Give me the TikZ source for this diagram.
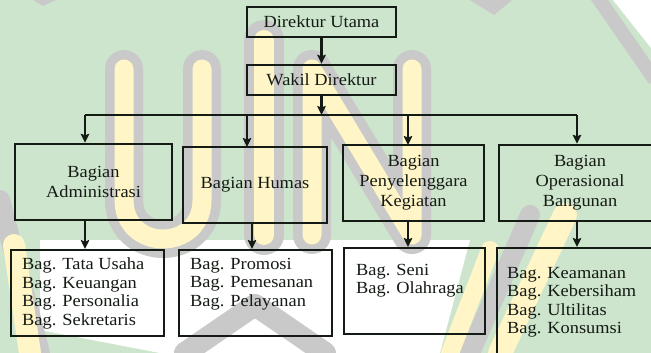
\documentclass[tikz,border=0pt]{standalone}
\usepackage{fontspec}
\setmainfont{Liberation Serif}[FakeStretch=1.08]
\usetikzlibrary{arrows.meta}
\definecolor{bggreen}{HTML}{CDE5CC}
\definecolor{wmyellow}{HTML}{FFF5C6}
\definecolor{wmgrey}{HTML}{C9C9C9}
\definecolor{inkc}{HTML}{141A14}
\tikzset{
  box/.style={draw=inkc, line width=2.4pt, minimum width=#1, inner sep=0pt},
  midtxt/.style={align=center, font=\fontsize{17}{19.8}\selectfont, text=inkc, inner sep=0pt},
  listtxt/.style={align=left, font=\fontsize{17}{18.4}\selectfont, text=inkc, inner sep=0pt, anchor=north west},
  conn/.style={draw=inkc, line width=2.1pt},
  arr/.style={conn, -{Stealth[length=9pt,width=8.5pt,inset=1.5pt]}},
  greyband/.style={draw=wmgrey, line width=#1, line cap=round, line join=round},
  yelband/.style={draw=wmyellow, line width=#1, line cap=round, line join=round},
}
\begin{document}
\begin{tikzpicture}[x=1pt,y=-1pt]
\useasboundingbox (0,0) rectangle (651,353);
\clip (0,0) rectangle (651,353);
% ---- watermark background ----
\fill[bggreen] (0,0) rectangle (651,353);
\fill[white] (40,240) -- (470,240) -- (440,353) -- (160,353) -- (40,330) -- cycle;
\fill[white] (613,0) -- (651,0) -- (651,48) -- cycle;
\draw[greyband=14pt, line cap=butt] (596,-5) -- (655,80);
\fill[wmgrey] (470,0) -- (512,0) -- (494,15) -- cycle;
\fill[wmgrey] (33,0) -- (56,0) -- (43,6) -- cycle;
% lower chevrons
\draw[greyband=20pt] (0,200) -- (40,353);
\draw[yelband=22pt] (14,245) -- (30,353);
\draw[greyband=22pt] (185,353) -- (255,305) -- (325,353);
\draw[greyband=20pt] (530,215) -- (470,353);
\draw[yelband=18pt] (490,250) -- (450,353);
\draw[yelband=24pt] (565,215) -- (500,353);
% U
\draw[greyband=38pt] (124,69) -- (124,200) .. controls (124,252) and (202,252) .. (202,200) -- (202,69);
\draw[yelband=19pt] (124,69) -- (124,200) .. controls (124,252) and (202,252) .. (202,200) -- (202,69);
% I
\draw[greyband=40pt] (264,40) -- (264,235);
\draw[yelband=20pt] (264,40) -- (264,235);
% N
\draw[greyband=38pt] (312,235) -- (312,69) -- (412,235) -- (412,69);
\draw[yelband=19pt] (312,235) -- (312,69) -- (412,235) -- (412,69);
% ---- chart ----
\node[box=149pt, minimum height=30pt, midtxt] (dir) at (321.5,22) {Direktur Utama};
\node[box=149pt, minimum height=30pt, midtxt] (wakil) at (321.5,80) {Wakil Direktur};
\coordinate (hub) at (321.5,115);
\coordinate (hl) at (85,115);
\coordinate (hr) at (577,115);
\draw[arr] (dir.south) -- (wakil.north);
\draw[arr] (wakil.south) -- (hub);
\draw[conn] (hl) -- (hr);

\node[box=157pt, minimum height=76pt, midtxt] (adm) at (93.5,182) {Bagian\\Administrasi};
\node[box=144pt, minimum height=76pt, midtxt] (hum) at (255,185) {Bagian Humas};
\node[box=141pt, minimum height=76pt, midtxt] (pen) at (413.5,183) {Bagian\\Penyelenggara\\Kegiatan};
\node[box=162pt, minimum height=76pt, midtxt] (ops) at (580,183) {Bagian\\Operasional\\Bangunan};

\draw[arr] (hl) -- (hl |- adm.north);
\draw[arr] (247,115) -- (247,147);
\draw[arr] (408,115) -- (408,145);
\draw[arr] (hr) -- (hr |- ops.north);

\node[box=153pt, minimum height=86pt, anchor=north west] (tata) at (10,249) {};
\node[box=153pt, minimum height=86pt, anchor=north west] (prom) at (178,249) {};
\node[box=141pt, minimum height=86pt, anchor=north west] (seni) at (343,247) {};
\node[box=165pt, minimum height=130pt, anchor=north west] (keam) at (496,247) {};

\node[listtxt] (tatat) at (22,258) {Bag. Tata Usaha\\Bag. Keuangan\\Bag. Personalia\\Bag. Sekretaris};
\node[listtxt] (promt) at (190,258) {Bag. Promosi\\Bag. Pemesanan\\Bag. Pelayanan};
\node[listtxt] (senit) at (356,264) {Bag. Seni\\Bag. Olahraga};
\node[listtxt] (keamt) at (507,267) {Bag. Keamanan\\Bag. Kebersiham\\Bag. Ultilitas\\Bag. Konsumsi};

\draw[arr] (adm.south -| hl) -- (hl |- tata.north);
\draw[arr] (252,223) -- (252,249);
\draw[arr] (408,221) -- (408,247);
\draw[arr] (577,221) -- (577,247);
\end{tikzpicture}
\end{document}
